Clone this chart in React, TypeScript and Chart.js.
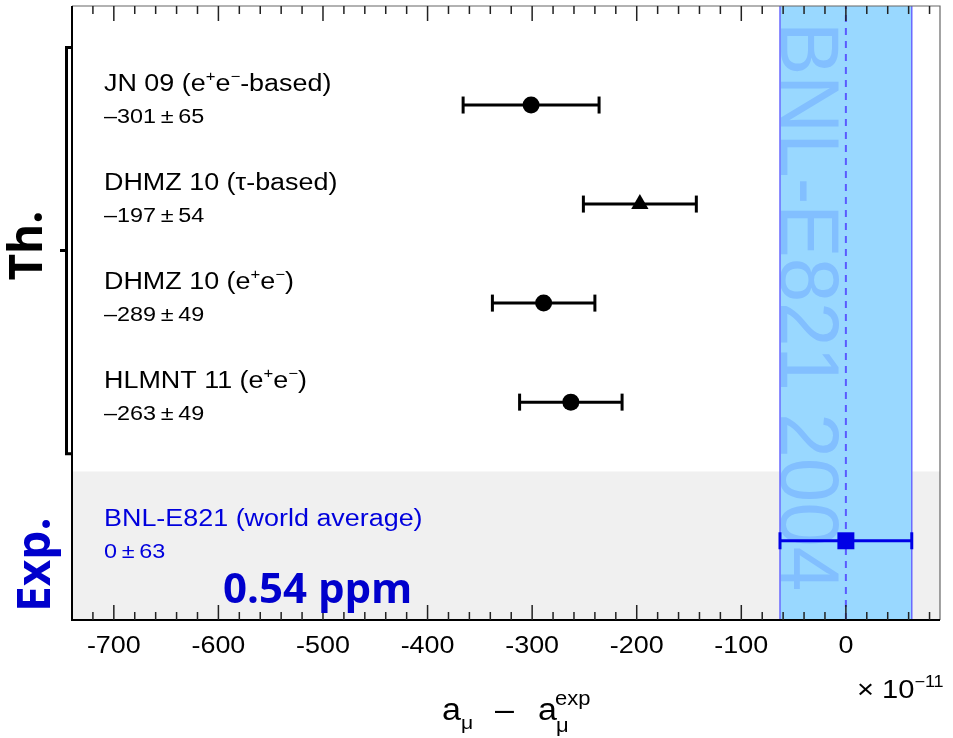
import React, { useEffect, useRef } from 'react';
import { Chart, registerables } from 'chart.js';

Chart.register(...registerables);

// ---------------- data ----------------
const thLabels = [
  'JN 09 (e^{+}e^{−}-based)',
  'DHMZ 10 (τ-based)',
  'DHMZ 10 (e^{+}e^{−})',
  'HLMNT 11 (e^{+}e^{−})',
];
const thCentral = [-301, -197, -289, -263];
const thError = [65, 54, 49, 49];
const thRow = [4, 3, 2, 1];

const expLabel = 'BNL-E821 (world average)';
const expCentral = [0];
const expError = [63];
const expRow = [-0.4];
const expBandLabel = 'BNL-E821 2004';
const precisionLabel = '0.54 ppm';
const groupLabels = ['Th.', 'Exp.'];

const xMin = -740;
const xMax = 90;
const yMin = -1.2;
const yMax = 5;
const expRegionTop = 0.3;
const xMajorTicks = [-700, -600, -500, -400, -300, -200, -100, 0];
const xTickLabels = ['-700', '-600', '-500', '-400', '-300', '-200', '-100', '0'];
const xMinorStep = 20;

// ---------------- helpers ----------------
const SANS = '"Liberation Sans", Arial, Helvetica, sans-serif';
const BOLD = '"Open Sans", "Liberation Sans", sans-serif';
const SX = 1.17;

type Seg = { t: string; k: 'n' | 'sup' | 'sub' };
function parseRich(s: string): Seg[] {
  const out: Seg[] = [];
  let buf = '';
  let i = 0;
  while (i < s.length) {
    if ((s[i] === '^' || s[i] === '_') && s[i + 1] === '{') {
      if (buf) { out.push({ t: buf, k: 'n' }); buf = ''; }
      const end = s.indexOf('}', i);
      out.push({ t: s.slice(i + 2, end), k: s[i] === '^' ? 'sup' : 'sub' });
      i = end + 1;
    } else {
      buf += s[i];
      i++;
    }
  }
  if (buf) out.push({ t: buf, k: 'n' });
  return out;
}

function drawRich(
  ctx: CanvasRenderingContext2D, s: string, x: number, y: number, size: number,
  color: string, align: 'left' | 'center' = 'left', sx = SX,
) {
  const segs = parseRich(s);
  ctx.save();
  ctx.textBaseline = 'alphabetic';
  ctx.textAlign = 'left';
  let total = 0;
  for (const g of segs) {
    const fs = g.k === 'n' ? size : size * 0.62;
    ctx.font = `${fs}px ${SANS}`;
    total += ctx.measureText(g.t).width;
  }
  ctx.translate(x, y);
  ctx.scale(sx, 1);
  ctx.fillStyle = color;
  let cx = align === 'center' ? -total / 2 : 0;
  for (const g of segs) {
    const fs = g.k === 'n' ? size : size * 0.62;
    const dy = g.k === 'sup' ? -size * 0.42 : g.k === 'sub' ? size * 0.3 : 0;
    ctx.font = `${fs}px ${SANS}`;
    ctx.fillText(g.t, cx, dy);
    cx += ctx.measureText(g.t).width;
  }
  ctx.restore();
}

function valueText(c: number, e: number) {
  const v = c < 0 ? '\u2013' + Math.abs(c) : String(c);
  return `${v}\u2009±\u2009${e}`;
}

const decor = {
  id: 'decor',
  beforeDatasetsDraw(chart: any) {
    const { ctx, chartArea: a, scales } = chart;
    const x = scales.x;
    const y = scales.y;
    ctx.save();
    // experimental region background
    const gy = y.getPixelForValue(expRegionTop);
    ctx.fillStyle = '#f0f0f0';
    ctx.fillRect(a.left, gy, a.right - a.left, a.bottom - gy);
    // band
    const bl = x.getPixelForValue(expCentral[0] - expError[0]);
    const bh = x.getPixelForValue(expCentral[0] + expError[0]);
    ctx.fillStyle = '#99d8ff';
    ctx.fillRect(bl, a.top, bh - bl, a.bottom - a.top);
    // band text
    ctx.save();
    ctx.translate(bl + 1, a.top + 16);
    ctx.rotate(Math.PI / 2);
    ctx.scale(1, 1.05);
    ctx.font = `80px ${SANS}`;
    ctx.fillStyle = '#82bfff';
    ctx.textBaseline = 'alphabetic';
    ctx.textAlign = 'left';
    ctx.fillText(expBandLabel, 0, 0);
    ctx.restore();
    // band edges
    ctx.strokeStyle = '#6a6aff';
    ctx.lineWidth = 1.5;
    ctx.beginPath();
    ctx.moveTo(bl, a.top); ctx.lineTo(bl, a.bottom);
    ctx.moveTo(bh, a.top); ctx.lineTo(bh, a.bottom);
    ctx.stroke();
    ctx.restore();
  },
  afterDraw(chart: any) {
    const { ctx, chartArea: a, scales } = chart;
    const x = scales.x;
    const y = scales.y;
    ctx.save();
    // frame
    ctx.strokeStyle = '#666';
    ctx.lineWidth = 1.2;
    ctx.beginPath();
    ctx.moveTo(a.left, a.top); ctx.lineTo(a.right, a.top); ctx.lineTo(a.right, a.bottom);
    ctx.stroke();
    ctx.strokeStyle = '#000';
    ctx.lineWidth = 2;
    ctx.beginPath();
    ctx.moveTo(a.left, a.top); ctx.lineTo(a.left, a.bottom); ctx.lineTo(a.right, a.bottom);
    ctx.stroke();
    // ticks (inward, top & bottom)
    ctx.strokeStyle = '#222';
    ctx.lineWidth = 1.5;
    ctx.beginPath();
    for (let v = Math.ceil(xMin / xMinorStep) * xMinorStep; v <= xMax; v += xMinorStep) {
      const px = x.getPixelForValue(v);
      if (px <= a.left + 1 || px >= a.right - 1) continue;
      const major = xMajorTicks.includes(v);
      const len = major ? 15 : 8;
      ctx.moveTo(px, a.bottom); ctx.lineTo(px, a.bottom - len);
      ctx.moveTo(px, a.top); ctx.lineTo(px, a.top + len);
    }
    ctx.stroke();
    // tick labels
    xMajorTicks.forEach((v, i) => {
      drawRich(ctx, xTickLabels[i], x.getPixelForValue(v), a.bottom + 33, 23, '#000', 'center');
    });
    // x10^-11
    drawRich(ctx, '×', 857, 698, 26, '#000', 'left', 1.12);
    drawRich(ctx, '10^{−11}', 882, 698, 26, '#000', 'left', 1.12);
    // axis title
    drawRich(ctx, 'a_{μ}', 442, 720, 31, '#000', 'left', 1.1);
    drawRich(ctx, '–', 495, 720, 31, '#000', 'left', 1.1);
    drawRich(ctx, 'a', 538, 720, 31, '#000', 'left', 1.1);
    drawRich(ctx, 'exp', 555, 705, 20, '#000', 'left', 1.1);
    drawRich(ctx, 'μ', 556, 732, 20, '#000', 'left', 1.1);

    // row labels
    thLabels.forEach((lab, i) => {
      const py = y.getPixelForValue(thRow[i]);
      drawRich(ctx, lab, 104, py - 14, 23, '#000');
      drawRich(ctx, valueText(thCentral[i], thError[i]), 104, py + 18, 20, '#000');
    });
    const ey = y.getPixelForValue(expRow[0]);
    drawRich(ctx, expLabel, 104, ey - 15, 23, '#0000dd');
    drawRich(ctx, valueText(expCentral[0], expError[0]), 104, ey + 17, 20, '#0000dd');
    // precision
    ctx.font = `bold 42px ${BOLD}`;
    ctx.fillStyle = '#0000cc';
    ctx.textAlign = 'left';
    ctx.textBaseline = 'alphabetic';
    ctx.fillText(precisionLabel, 223, 603);

    // bracket
    const bt = y.getPixelForValue(thRow[0] + 0.58);
    const bb = y.getPixelForValue(thRow[thRow.length - 1] - 0.52);
    const bm = (bt + bb) / 2;
    ctx.strokeStyle = '#000';
    ctx.lineWidth = 3;
    ctx.beginPath();
    ctx.moveTo(71, bt); ctx.lineTo(66.5, bt); ctx.lineTo(66.5, bb); ctx.lineTo(71, bb);
    ctx.moveTo(66.5, bm); ctx.lineTo(60, bm);
    ctx.stroke();

    // group labels (rotated)
    ctx.font = `bold 46px ${BOLD}`;
    ctx.textAlign = 'center';
    ctx.save();
    ctx.translate(42, bm - 5);
    ctx.rotate(-Math.PI / 2);
    ctx.fillStyle = '#000';
    ctx.fillText(groupLabels[0], 0, 0);
    ctx.restore();
    ctx.save();
    ctx.translate(50, ey + 24);
    ctx.rotate(-Math.PI / 2);
    ctx.fillStyle = '#0000cc';
    ctx.fillText(groupLabels[1], 0, 0);
    ctx.restore();

    ctx.restore();
  },
};

function errBar(c: number, e: number, row: number, color: string) {
  return {
    type: 'line' as const,
    data: [{ x: c - e, y: row }, { x: c + e, y: row }],
    borderColor: color,
    backgroundColor: color,
    borderWidth: 3,
    showLine: true,
    fill: false,
    pointStyle: 'line',
    rotation: 90,
    pointRadius: 8.5,
    pointBorderWidth: 3,
    pointBorderColor: color,
    pointHoverRadius: 8.5,
    order: 5,
  };
}

export default function App() {
  const ref = useRef<HTMLCanvasElement>(null);
  useEffect(() => {
    const datasets: any[] = [];
    // dashed zero line
    datasets.push({
      type: 'line',
      data: [{ x: expCentral[0], y: yMin }, { x: expCentral[0], y: yMax }],
      borderColor: '#5a5aff',
      borderWidth: 2,
      borderDash: [7, 6],
      pointRadius: 0,
      showLine: true,
      fill: false,
      order: 10,
    });
    thCentral.forEach((c, i) => datasets.push(errBar(c, thError[i], thRow[i], '#000')));
    datasets.push(errBar(expCentral[0], expError[0], expRow[0], '#0000e6'));
    datasets.push({
      type: 'scatter',
      data: thCentral.map((c, i) => ({ x: c, y: thRow[i] })),
      pointStyle: thLabels.map((l) => (l.includes('τ') ? 'triangle' : 'circle')),
      pointRadius: thLabels.map((l) => (l.includes('τ') ? 10 : 8.5)),
      backgroundColor: '#000',
      borderColor: '#000',
      borderWidth: 0,
      order: 0,
    });
    datasets.push({
      type: 'scatter',
      data: expCentral.map((c, i) => ({ x: c, y: expRow[i] })),
      pointStyle: 'rect',
      pointRadius: 12,
      backgroundColor: '#0000e6',
      borderColor: '#0000e6',
      borderWidth: 0,
      order: 0,
    });

    const chart = new Chart(ref.current!, {
      type: 'scatter',
      data: { datasets },
      options: {
        responsive: false,
        animation: false,
        events: [],
        layout: { autoPadding: false, padding: { left: 72, right: 13, top: 6, bottom: 118 } },
        plugins: { legend: { display: false }, tooltip: { enabled: false } },
        scales: {
          x: { type: 'linear', min: xMin, max: xMax, display: false },
          y: { type: 'linear', min: yMin, max: yMax, display: false },
        },
      },
      plugins: [decor],
    } as any);
    return () => chart.destroy();
  }, []);
  return (
    <div style={{ position: 'absolute', left: 0, top: 0, width: 953, height: 738, background: '#fff' }}>
      <canvas ref={ref} width={953} height={738} style={{ display: 'block', width: 953, height: 738 }} />
    </div>
  );
}
